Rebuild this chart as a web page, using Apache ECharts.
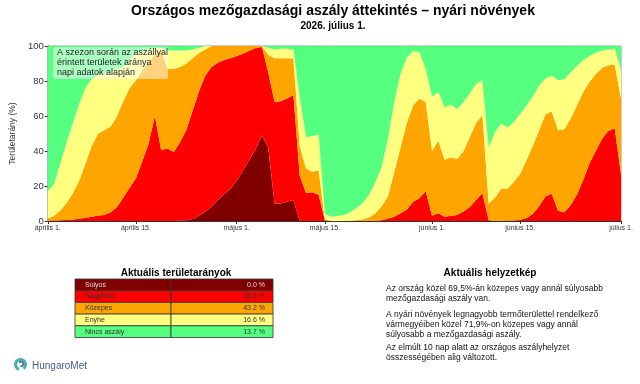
<!DOCTYPE html>
<html>
<head>
<meta charset="utf-8">
<script src="https://cdn.jsdelivr.net/npm/echarts@6/dist/echarts.min.js"></script>
<style>
  html, body { margin: 0; padding: 0; background: #fff; }
  #chart { width: 640px; height: 384px; }
</style>
</head>
<body>
<div id="chart"></div>
<script>
// napok április 1-től július 1-ig (0..91)
const tickDays = [0, 14, 30, 44, 61, 75, 91];
const tickLabels = ['április 1.', 'április 15.', 'május 1.', 'május 15.', 'június 1.', 'június 15.', 'július 1.'];

// sávok felső széle (kumulált %), napi értékek
const sulyosTop = [
  0, 0, 0, 0, 0, 0, 0, 0, 0, 0,
  0, 0, 0, 0, 0, 0, 0, 0, 0, 0,
  0, 0.1, 0.4, 1.2, 3, 5.5, 8, 12, 15.4, 18.5,
  23, 29, 35, 41, 49, 42, 10, 10, 11, 12,
  0, 0, 0, 0, 0, 0, 0, 0, 0, 0,
  0, 0, 0, 0, 0, 0, 0, 0, 0, 0,
  0, 0, 0, 0, 0, 0, 0, 0, 0, 0,
  0, 0, 0, 0, 0, 0, 0, 0, 0, 0,
  0, 0, 0, 0, 0, 0, 0, 0, 0, 0,
  0, 0
];
const nagyfokuTop = [
  0.2, 0.3, 0.4, 0.6, 0.9, 1.3, 1.8, 2.5, 3.2, 3.5,
  5, 8, 13.5, 19, 24.5, 34, 44, 60, 40.5, 41.5,
  39.5, 45, 52, 63, 74, 83, 88, 90.5, 92, 93,
  94.3, 95.6, 97.3, 98.8, 99.5, 85, 68, 68.5, 70, 72,
  26, 16, 16.5, 15, 0.3, 0, 0, 0, 0, 0,
  0, 0, 0.2, 0.5, 1.5, 2.5, 4.5, 6.5, 11, 13,
  17, 3, 4.5, 2.5, 3, 3.5, 5.5, 8, 12, 16,
  0.5, 0.2, 0.2, 0.3, 0.3, 0.6, 1.7, 4, 8.5, 14,
  15.6, 5.8, 5, 9, 15, 23.5, 33, 40, 47, 51.5,
  53, 26.6
];
const kozepesTop = [
  1.2, 3, 6, 10.5, 16, 23, 33, 43, 50, 52,
  54, 60, 68.5, 76, 80.5, 86, 91, 95, 97.5, 87,
  87, 88, 90, 93, 96, 98, 100, 100, 100, 100,
  100, 100, 100, 100, 100, 95, 93, 93, 93, 93,
  43, 30, 28, 29, 1, 0, 0, 0, 0.2, 0.5,
  1, 2, 4.5, 8.5, 14, 28, 42, 56, 66, 70,
  68, 40, 46, 35, 36.5, 35.5, 40, 48, 56, 60.5,
  10, 13.5, 18.5, 18.5, 22.5, 27, 34.7, 43, 51.8, 60.8,
  62.7, 51.8, 52.4, 58.5, 66, 73.7, 79.4, 84, 87.4, 89,
  89.3, 69.8
];
const enyheTop = [
  17.5, 21, 33, 45, 56, 67, 76.5, 81, 83.5, 84.5,
  85.5, 87, 88, 92, 96, 97.5, 98, 98.5, 99, 97.5,
  97.5, 97.5, 97.5, 98, 99, 100, 100, 100, 100, 100,
  100, 100, 100, 100, 100, 99, 98, 98.5, 98.5, 98,
  71, 48, 48.5, 49.5, 4, 2.5, 2.8, 3.5, 5, 7.5,
  10.5, 15, 22, 31, 47, 68, 84, 93.5, 97, 96.5,
  87, 71, 73.7, 65, 66.5, 64, 68, 72.8, 78.5, 80.4,
  42, 51, 55.6, 53.5, 56.6, 61.3, 66, 71, 77.5, 81.3,
  83.2, 80.4, 81, 85, 88.6, 91.8, 94.3, 96.2, 97.5, 98,
  98.5, 86.4
];

const categories = ['Súlyos', 'Nagyfokú', 'Közepes', 'Enyhe', 'Nincs aszály'];
const currentValues = ['0.0 %', '26.6 %', '43.2 %', '16.6 %', '13.7 %'];
const colors = ['#800000', '#ff0000', '#ffa500', '#ffff80', '#55ff80'];

const infoLines = [
  'Az ország közel 69,5%-án közepes vagy annál súlyosabb',
  'mezőgazdasági aszály van.',
  'A nyári növények legnagyobb termőterülettel rendelkező',
  'vármegyéiben közel 71,9%-on közepes vagy annál',
  'súlyosabb a mezőgazdasági aszály.',
  'Az elmúlt 10 nap alatt az országos aszályhelyzet',
  'összességében alig változott.'
];
const infoY = [289, 299, 314.5, 324.5, 334.5, 347.5, 357.5];

const FONT = 'Liberation Sans, Arial, sans-serif';
const days = sulyosTop.map((_, i) => i);

const tops = [sulyosTop, nagyfokuTop, kozepesTop, enyheTop, days.map(() => 100)];
const shares = tops.map((arr, k) =>
  arr.map((v, i) => +(v - (k ? tops[k - 1][i] : 0)).toFixed(2))
);

const showTick = (i) => tickDays.includes(i);

const chart = echarts.init(document.getElementById('chart'));

const graphic = [
  { type: 'text', z: 100, style: { text: 'Országos mezőgazdasági aszály áttekintés – nyári növények', x: 333, y: 11, textAlign: 'center', textVerticalAlign: 'middle', fontSize: 14, fontWeight: 'bold', fontFamily: FONT, fill: '#000' } },
  { type: 'text', z: 100, style: { text: '2026. július 1.', x: 333, y: 26, textAlign: 'center', textVerticalAlign: 'middle', fontSize: 10, fontWeight: 'bold', fontFamily: FONT, fill: '#000' } },
  { type: 'rect', z: 100, shape: { x: 53, y: 47, width: 115, height: 32, r: 3 }, style: { fill: 'rgba(255,255,255,0.5)' } },
  { type: 'text', z: 101, style: { text: 'A szezon során az aszállyal\nérintett területek aránya\nnapi adatok alapján', x: 57, y: 48, lineHeight: 10, fontSize: 9, fontFamily: FONT, fill: '#222' } },
  { type: 'text', z: 100, style: { text: 'Aktuális területarányok', x: 176, y: 273, textAlign: 'center', textVerticalAlign: 'middle', fontSize: 10, fontWeight: 'bold', fontFamily: FONT, fill: '#000' } },
  { type: 'text', z: 100, style: { text: 'Aktuális helyzetkép', x: 490, y: 273, textAlign: 'center', textVerticalAlign: 'middle', fontSize: 10, fontWeight: 'bold', fontFamily: FONT, fill: '#000' } }
];

const rowH = 11.7;
categories.forEach((name, i) => {
  const y = 279 + i * rowH;
  const txt = i === 0 ? '#ddd' : '#333';
  graphic.push(
    { type: 'rect', z: 100, shape: { x: 75, y: y, width: 96, height: rowH }, style: { fill: colors[i], stroke: '#333', lineWidth: 0.8 } },
    { type: 'rect', z: 100, shape: { x: 171, y: y, width: 102, height: rowH }, style: { fill: colors[i], stroke: '#333', lineWidth: 0.8 } },
    { type: 'text', z: 101, style: { text: name, x: 85, y: y + rowH / 2, textVerticalAlign: 'middle', fontSize: 7, fontFamily: FONT, fill: txt } },
    { type: 'text', z: 101, style: { text: currentValues[i], x: 265, y: y + rowH / 2, textAlign: 'right', textVerticalAlign: 'middle', fontSize: 7, fontFamily: FONT, fill: txt } }
  );
});

infoLines.forEach((line, i) => {
  graphic.push({ type: 'text', z: 100, style: { text: line, x: 386, y: infoY[i], textVerticalAlign: 'middle', fontSize: 8.5, fontFamily: FONT, fill: '#111' } });
});

// HungaroMet logó
graphic.push(
  { type: 'arc', z: 100, shape: { cx: 20.5, cy: 364.5, r: 5, startAngle: Math.PI * 0.6, endAngle: Math.PI * 2.3 }, style: { stroke: '#3fb5a6', lineWidth: 3, fill: null } },
  { type: 'arc', z: 100, shape: { cx: 21, cy: 364, r: 2.2, startAngle: Math.PI * 1.2, endAngle: Math.PI * 2.6 }, style: { stroke: '#4b5a8c', lineWidth: 1.5, fill: null } },
  { type: 'text', z: 100, style: { text: 'HungaroMet', x: 32, y: 366, textVerticalAlign: 'middle', fontSize: 10, fontFamily: FONT, fill: '#4b5a8c' } }
);

chart.setOption({
  animation: false,
  textStyle: { fontFamily: FONT },
  grid: { left: 44, right: 19, top: 46, bottom: 163, show: true, borderColor: '#999', borderWidth: 1 },
  xAxis: {
    type: 'category',
    boundaryGap: false,
    data: days,
    axisLine: { lineStyle: { color: '#333' } },
    axisTick: { interval: showTick, length: 3, lineStyle: { color: '#333' } },
    axisLabel: {
      interval: showTick,
      formatter: (v, i) => tickLabels[tickDays.indexOf(i)] || '',
      fontSize: 7, color: '#333', margin: 4
    },
    splitLine: { show: false }
  },
  yAxis: {
    type: 'value',
    min: 0, max: 100, interval: 20,
    name: 'Területarány (%)',
    nameLocation: 'middle',
    nameGap: 24,
    nameTextStyle: { fontSize: 8.5, color: '#333' },
    axisLine: { show: true, lineStyle: { color: '#333' } },
    axisTick: { show: true, length: 3, lineStyle: { color: '#333' } },
    axisLabel: { fontSize: 9.5, color: '#333', margin: 4 },
    splitLine: { show: false }
  },
  series: categories.map((name, k) => ({
    name,
    type: 'line',
    stack: 'total',
    data: shares[k],
    symbol: 'none',
    lineStyle: { width: 0 },
    areaStyle: { color: colors[k], opacity: 1 },
    itemStyle: { color: colors[k] }
  })),
  graphic
});
</script>
</body>
</html>
